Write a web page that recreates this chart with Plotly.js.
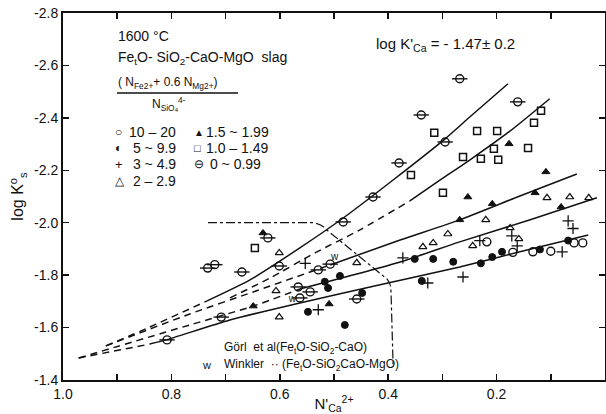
<!DOCTYPE html>
<html>
<head>
<meta charset="utf-8">
<script src="https://cdn.plot.ly/plotly-3.0.1.min.js"></script>
<style>html,body{margin:0;padding:0;background:#fff;}#chart{width:606px;height:414px;}</style>
</head>
<body>
<div id="chart"></div>
<script>
// ---------- fitted curves ----------
const c1DashX = [0.921, 0.840, 0.734];
const c1DashY = [-1.530, -1.602, -1.702];
const c1X = [0.734, 0.655, 0.563, 0.483, 0.391, 0.295, 0.249, 0.179];
const c1Y = [-1.702, -1.782, -1.904, -2.018, -2.163, -2.320, -2.404, -2.530];

const c2DashX = [0.692, 0.618, 0.535, 0.452, 0.360];
const c2DashY = [-1.713, -1.789, -1.885, -1.973, -2.083];
const c2X = [0.360, 0.304, 0.249, 0.175, 0.102];
const c2Y = [-2.083, -2.163, -2.240, -2.350, -2.473];

const c3DashX = [0.921, 0.766, 0.649, 0.507];
const c3DashY = [-1.530, -1.652, -1.736, -1.839];
const c3X = [0.507, 0.378, 0.268, 0.157, 0.052];
const c3Y = [-1.839, -1.934, -2.011, -2.102, -2.186];

const c4DashX = [0.971, 0.766, 0.649, 0.563];
const c4DashY = [-1.484, -1.610, -1.682, -1.747];
const c4X = [0.563, 0.378, 0.268, 0.138, 0.015];
const c4Y = [-1.747, -1.850, -1.927, -2.011, -2.095];

const c5DashX = [0.971, 0.840];
const c5DashY = [-1.484, -1.537];
const c5X = [0.840, 0.810, 0.692, 0.563, 0.415, 0.268, 0.157, 0.031];
const c5Y = [-1.537, -1.553, -1.629, -1.694, -1.763, -1.831, -1.889, -1.953];

// ---------- data points by group ----------
const g0X = [0.268, 0.339, 0.161, 0.295, 0.380, 0.428, 0.483, 0.622, 0.601, 0.733, 0.720, 0.670, 0.708, 0.808, 0.529, 0.507, 0.566, 0.563, 0.544, 0.458];
const g0Y = [-2.549, -2.411, -2.461, -2.308, -2.228, -2.098, -2.003, -1.942, -1.835, -1.827, -1.840, -1.812, -1.640, -1.553, -1.820, -1.842, -1.755, -1.713, -1.736, -1.709];

const g1X = [0.315, 0.358, 0.299, 0.262, 0.236, 0.199, 0.229, 0.197, 0.205, 0.142, 0.131, 0.118, 0.646];
const g1Y = [-2.343, -2.182, -2.114, -2.251, -2.350, -2.350, -2.244, -2.240, -2.282, -2.285, -2.381, -2.427, -1.904];

const g15X = [0.177, 0.109, 0.253, 0.208, 0.268, 0.129, 0.081, 0.631, 0.649, 0.509];
const g15Y = [-2.301, -2.194, -2.098, -2.072, -2.011, -2.114, -2.060, -1.961, -1.682, -1.690];

const g2X = [0.290, 0.336, 0.317, 0.458, 0.220, 0.107, 0.065, 0.030, 0.175, 0.159, 0.244, 0.601, 0.607, 0.601];
const g2Y = [-1.957, -1.908, -1.923, -1.847, -2.011, -2.095, -2.098, -2.095, -1.980, -1.938, -1.912, -1.885, -1.740, -1.640];

const g3X = [0.553, 0.373, 0.327, 0.262, 0.231, 0.172, 0.162, 0.079, 0.068, 0.059, 0.529];
const g3Y = [-1.845, -1.866, -1.770, -1.793, -1.932, -1.950, -1.912, -1.889, -2.007, -1.978, -1.668];

const g5X = [0.517, 0.489, 0.511, 0.448, 0.548, 0.480, 0.351, 0.317, 0.280, 0.338, 0.229, 0.208, 0.190, 0.120, 0.068];
const g5Y = [-1.775, -1.797, -1.751, -1.732, -1.660, -1.610, -1.862, -1.862, -1.851, -1.778, -1.845, -1.869, -1.889, -1.898, -1.932];

const g10X = [0.170, 0.133, 0.100, 0.218, 0.057, 0.041];
const g10Y = [-1.887, -1.889, -1.891, -1.927, -1.923, -1.923];

const wX = [0.577, 0.499];
const wY = [-1.709, -1.868];

// ---------- axis ticks ----------
const xTickVals = [1.0, 0.9, 0.8, 0.7, 0.6, 0.5, 0.4, 0.3, 0.2, 0.1, 0.0];
const xTickText = ['1.0', ' ', '0.8', ' ', '0.6', ' ', '0.4', ' ', '0.2', ' ', '0'];
const yTickVals = [-1.4, -1.6, -1.8, -2.0, -2.2, -2.4, -2.6, -2.8];
const yTickText = ['-1.4', '-1.6', '-1.8', '-2.0', '-2.2', '-2.4', '-2.6', '-2.8'];

const K = '#111';
const FONT = 'Liberation Sans, Arial, sans-serif';

function line(x, y, dash) {
  return {x: x, y: y, mode: 'lines', type: 'scatter', hoverinfo: 'skip',
          line: {color: K, width: 1.5, dash: dash, shape: 'spline', smoothing: 0.6}};
}
function pts(x, y, symbol, size, width) {
  return {x: x, y: y, mode: 'markers', type: 'scatter',
          marker: {symbol: symbol, size: size, color: K, line: {color: K, width: width}}};
}

const traces = [
  line(c1DashX, c1DashY, '7px,5px'), line(c1X, c1Y, 'solid'),
  line(c2DashX, c2DashY, '7px,5px'), line(c2X, c2Y, 'solid'),
  line(c3DashX, c3DashY, '7px,5px'), line(c3X, c3Y, 'solid'),
  line(c4DashX, c4DashY, '7px,5px'), line(c4X, c4Y, 'solid'),
  line(c5DashX, c5DashY, '7px,5px'), line(c5X, c5Y, 'solid'),
  pts(g0X, g0Y, 'circle-open', 8, 1.4), pts(g0X, g0Y, 'line-ew-open', 11, 1.4),
  pts(g1X, g1Y, 'square-open', 7, 1.5),
  pts(g15X, g15Y, 'triangle-up', 7, 1),
  pts(g2X, g2Y, 'triangle-up-open', 7, 1.2),
  pts(g3X, g3Y, 'cross-thin-open', 8, 1.3),
  pts(g5X, g5Y, 'circle', 7, 1),
  pts(g10X, g10Y, 'circle-open', 8, 1.4),
  {x: wX, y: wY, mode: 'text', type: 'scatter', text: wX.map(() => 'w'),
   textfont: {family: FONT, size: 10, color: K}, hoverinfo: 'skip'}
];

// paper helpers: pixel -> paper (plot area 63..605 x 13..380)
const px = p => (p - 63) / 542;
const py = p => (380 - p) / 367;

function ann(text, x, y, size, anchor) {
  return {text: text, x: px(x), y: py(y), xref: 'paper', yref: 'paper', showarrow: false,
          xanchor: anchor || 'left', yanchor: 'middle', font: {family: FONT, size: size || 13, color: K}};
}

const annotations = [
  ann('1600 °C', 116, 36, 14),
  ann('Fe<sub>t</sub>O- SiO<sub>2</sub>-CaO-MgO  slag', 116, 58, 14),
  ann('( N<sub>Fe2+</sub>+ 0.6 N<sub>Mg2+</sub>)', 116, 83, 12),
  ann('N<sub>SiO<sub>4</sub></sub><sup>4-</sup>', 150, 104, 12),
  ann('○', 113, 132, 12), ann('10 – 20', 127, 132, 14),
  ann('◐', 113, 148, 12), ann(' 5 ~ 9.9', 127, 148, 14),
  ann('+', 113, 164, 13), ann(' 3 ~ 4.9', 127, 164, 14),
  ann('△', 113, 181, 12), ann(' 2 – 2.9', 127, 181, 14),
  ann('▲', 192, 132, 10), ann('1.5 ~ 1.99', 204, 132, 14),
  ann('□', 192, 148, 11), ann('1.0 – 1.49', 204, 148, 14),
  ann('⊖', 192, 164, 12), ann(' 0 ~ 0.99', 204, 164, 14),
  ann("log K'<sub>Ca</sub> = - 1.47± 0.2", 374, 45, 15),
  ann('Görl  et al(Fe<sub>t</sub>O-SiO<sub>2</sub>-CaO)', 222, 348, 12),
  ann('w', 200, 365, 11),
  ann('Winkler  ·· (Fe<sub>t</sub>O-SiO<sub>2</sub>CaO-MgO)', 222, 365, 12)
];

const layout = {
  width: 606, height: 414,
  margin: {l: 63, r: 1, t: 13, b: 34},
  paper_bgcolor: '#fff', plot_bgcolor: '#fff',
  showlegend: false,
  font: {family: FONT, color: K},
  xaxis: {
    range: [1.0, 0.0], tickvals: xTickVals, ticktext: xTickText,
    ticks: 'inside', ticklen: 6, tickwidth: 1.5, tickcolor: K,
    showline: true, linecolor: K, linewidth: 2, mirror: 'ticks',
    showgrid: false, zeroline: false,
    tickfont: {family: FONT, size: 14, color: K},
    title: {text: "N'<sub>Ca</sub><sup>2+</sup>", font: {family: FONT, size: 15, color: K}, standoff: 2}
  },
  yaxis: {
    range: [-1.4, -2.8], tickvals: yTickVals, ticktext: yTickText,
    ticks: 'inside', ticklen: 6, tickwidth: 1.5, tickcolor: K,
    showline: true, linecolor: K, linewidth: 2, mirror: 'ticks',
    showgrid: false, zeroline: false,
    tickfont: {family: FONT, size: 14, color: K},
    title: {text: 'log K<sup>o</sup><sub>s</sub>', font: {family: FONT, size: 16, color: K}, standoff: 6}
  },
  annotations: annotations,
  shapes: [
    {type: 'line', xref: 'paper', yref: 'paper', x0: px(117), x1: px(238), y0: py(93), y1: py(93),
     line: {color: K, width: 1.3}},
    {type: 'path', xref: 'x', yref: 'y',
     path: 'M0.7325,-2.0 L0.539,-2.0 Q0.522,-1.995 0.515,-1.975 L0.402,-1.785 Q0.396,-1.77 0.395,-1.75 L0.391,-1.46',
     line: {color: K, width: 1.2, dash: 'dashdot'}}
  ]
};

Plotly.newPlot('chart', traces, layout, {staticPlot: true, displayModeBar: false});
</script>
</body>
</html>
